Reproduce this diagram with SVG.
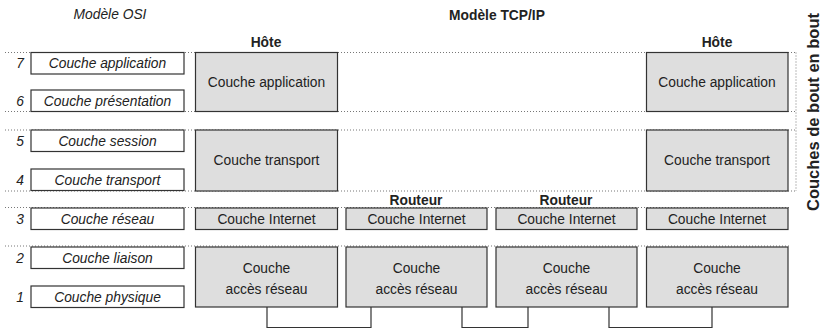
<svg xmlns="http://www.w3.org/2000/svg" width="820" height="329" viewBox="0 0 820 329">
<style>
text{font-family:"Liberation Sans",Arial,sans-serif;font-size:13.8px;fill:#222;text-anchor:middle}
.it{font-style:italic}
.b{font-weight:bold}
.osi{fill:#fff;stroke:#333;stroke-width:1.2}
.tcp{fill:#dedede;stroke:#333;stroke-width:1.2}
.dot{stroke:#777;stroke-width:1;stroke-dasharray:1 2;fill:none}
.con{stroke:#333;stroke-width:1.2;fill:none}
</style>
<rect width="820" height="329" fill="#fff"/>
<g id="guides">
<path class="dot" d="M5 52.5H796M5 111.5H796M5 130H796M5 191H796M5 207.5H790M5 246H790M796 52.5V191"/>
</g>
<g id="titles">
<text class="it" x="110" y="19">Modèle OSI</text>
<text class="b" x="497" y="20">Modèle TCP/IP</text>
<text class="b" x="266" y="47">Hôte</text>
<text class="b" x="717" y="47">Hôte</text>
<text class="b" x="416" y="205">Routeur</text>
<text class="b" x="566" y="205">Routeur</text>
<text class="b" transform="translate(818.5,112) rotate(-90)" style="font-size:16.5px">Couches de bout en bout</text>
</g>
<g id="osi7"><text class="it" x="20" y="68">7</text><rect class="osi" x="31" y="52.5" width="153" height="21.5"/><text class="it" x="107.5" y="68">Couche application</text></g>
<g id="osi6"><text class="it" x="20" y="106">6</text><rect class="osi" x="31" y="90" width="153" height="21.5"/><text class="it" x="107.5" y="106">Couche présentation</text></g>
<g id="osi5"><text class="it" x="20" y="146">5</text><rect class="osi" x="31" y="130" width="153" height="21.5"/><text class="it" x="107.5" y="146">Couche session</text></g>
<g id="osi4"><text class="it" x="20" y="185">4</text><rect class="osi" x="31" y="169" width="153" height="21.5"/><text class="it" x="107.5" y="185">Couche transport</text></g>
<g id="osi3"><text class="it" x="20" y="224">3</text><rect class="osi" x="31" y="208" width="153" height="21.5"/><text class="it" x="107.5" y="224">Couche réseau</text></g>
<g id="osi2"><text class="it" x="20" y="263">2</text><rect class="osi" x="31" y="247" width="153" height="21.5"/><text class="it" x="107.5" y="263">Couche liaison</text></g>
<g id="osi1"><text class="it" x="20" y="302">1</text><rect class="osi" x="31" y="286" width="153" height="21.5"/><text class="it" x="107.5" y="302">Couche physique</text></g>
<g id="h1-app"><rect class="tcp" x="195.5" y="52.5" width="142" height="59"/><text x="266.5" y="87">Couche application</text></g>
<g id="h1-transport"><rect class="tcp" x="195.5" y="130" width="142" height="61"/><text x="266.5" y="165">Couche transport</text></g>
<g id="h1-internet"><rect class="tcp" x="195.5" y="208" width="142" height="21.5"/><text x="266.5" y="224">Couche Internet</text></g>
<g id="h1-acces"><rect class="tcp" x="195.5" y="247" width="142" height="60"/><text x="266.5" y="273">Couche</text><text x="266.5" y="294">accès réseau</text></g>
<g id="r1-internet"><rect class="tcp" x="346" y="208" width="141" height="21.5"/><text x="416.5" y="224">Couche Internet</text></g>
<g id="r1-acces"><rect class="tcp" x="346" y="247" width="141" height="60"/><text x="416.5" y="273">Couche</text><text x="416.5" y="294">accès réseau</text></g>
<g id="r2-internet"><rect class="tcp" x="496" y="208" width="141" height="21.5"/><text x="566.5" y="224">Couche Internet</text></g>
<g id="r2-acces"><rect class="tcp" x="496" y="247" width="141" height="60"/><text x="566.5" y="273">Couche</text><text x="566.5" y="294">accès réseau</text></g>
<g id="h2-app"><rect class="tcp" x="646.5" y="52.5" width="141.5" height="59"/><text x="717" y="87">Couche application</text></g>
<g id="h2-transport"><rect class="tcp" x="646.5" y="130" width="141.5" height="61"/><text x="717" y="165">Couche transport</text></g>
<g id="h2-internet"><rect class="tcp" x="646.5" y="208" width="141.5" height="21.5"/><text x="717" y="224">Couche Internet</text></g>
<g id="h2-acces"><rect class="tcp" x="646.5" y="247" width="141.5" height="60"/><text x="717" y="273">Couche</text><text x="717" y="294">accès réseau</text></g>
<g id="connectors">
<path class="con" d="M267 307V327.5H371V307"/>
<path class="con" d="M462 307V327.5H528V307"/>
<path class="con" d="M609 307V327.5H712V307"/>
</g>
</svg>
